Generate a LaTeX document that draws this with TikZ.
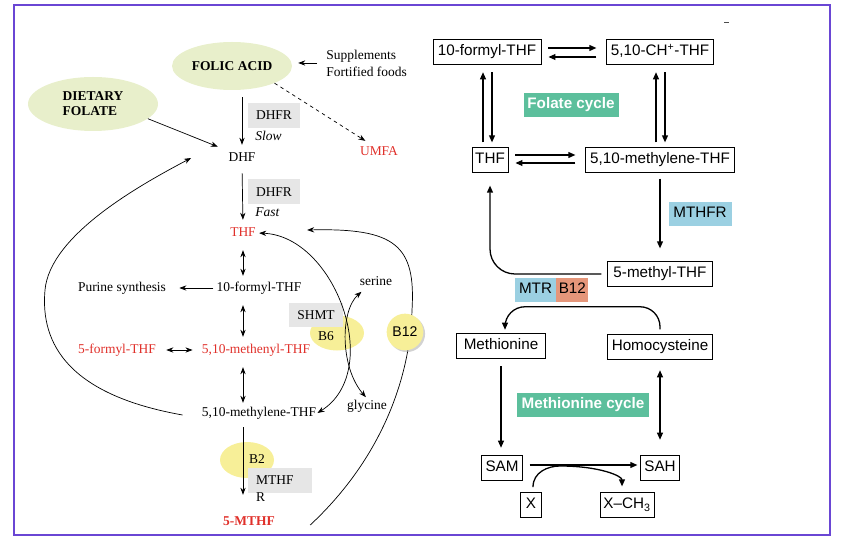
\documentclass[tikz,border=0pt]{standalone}
\usepackage{fontspec}
\setmainfont{Liberation Serif}
\newfontfamily\rsans{Liberation Sans}
\usetikzlibrary{arrows.meta,positioning,shapes.geometric,shadows}
\definecolor{framecol}{HTML}{6A46D4}
\definecolor{srcgreen}{HTML}{E8EFCB}
\definecolor{enzgray}{HTML}{E6E6E6}
\definecolor{vityel}{HTML}{F7EF98}
\definecolor{folred}{HTML}{E0302A}
\definecolor{cycgreen}{HTML}{5CBF9C}
\definecolor{tagblue}{HTML}{9BD0E2}
\definecolor{tagorange}{HTML}{E5967A}

\begin{document}
\begin{tikzpicture}[x=0.03cm, y=-0.03cm, font=\fontsize{11.5}{13}\selectfont,
  txt/.style={inner sep=1pt, text height=8pt, text depth=2.5pt},
  src/.style={ellipse, fill=srcgreen, inner sep=0pt, font=\fontsize{11.5}{13}\selectfont\bfseries},
  vit/.style={ellipse, fill=vityel, inner sep=0pt, minimum width=1.62cm, minimum height=1.05cm},
  enz/.style={fill=enzgray, inner sep=0pt, minimum width=1.56cm, minimum height=0.75cm},
  fol/.style={txt, text=folred},
  arr/.style={-{Stealth[length=6pt,width=4.5pt]}, line width=0.6pt},
  darr/.style={{Stealth[length=6pt,width=4.5pt]}-{Stealth[length=6pt,width=4.5pt]}, line width=0.6pt},
  rbox/.style={draw, line width=0.7pt, inner xsep=2pt, inner ysep=0pt, minimum height=0.75cm,
    text height=9pt, text depth=2.5pt, font=\rsans\fontsize{13}{15}\selectfont},
  rtag/.style={inner xsep=2pt, inner ysep=0pt, minimum height=0.72cm,
    text height=9pt, text depth=2.5pt, font=\rsans\fontsize{13}{15}\selectfont},
  rarr/.style={-{Triangle[length=6pt,width=5pt]}, line width=1.1pt},
  rdarr/.style={{Triangle[length=6pt,width=5pt]}-{Triangle[length=6pt,width=5pt]}, line width=1.1pt}]
  \useasboundingbox (0,0) rectangle (852,544);
  \draw[framecol, line width=1.6pt] (14,5) rectangle (830,535);
  \draw[line width=0.8pt, black!70] (724,22) -- (729,22);

  \node[src, minimum width=3.6cm, minimum height=1.44cm] (folic) at (232,66) {FOLIC ACID};
  \node[src, minimum width=3.9cm, minimum height=1.62cm, align=left] (dietary) at (93,104) {DIETARY\\FOLATE};
  \node[vit] (b6dot) at (337,333) {};
  \node[vit, minimum height=1.08cm] (b2dot) at (247,460) {};
  \node[enz] (dhfrA) at (274,115.5) {DHFR};
  \node[enz] (dhfrB) at (274,192) {DHFR};
  \node[enz, minimum width=1.62cm, minimum height=0.72cm] (shmt) at (316,315) {SHMT};
  \node[enz, minimum width=1.92cm] (mthfrbox) at (280,480.5) {};

  \node[anchor=west, align=left, inner sep=1pt, font=\fontsize{11.5}{14.5}\selectfont] (supp) at (325,63) {Supplements\\Fortified foods};
  \node[txt] (dhf) at (242,158) {DHF};
  \node[fol] (umfa) at (379,152) {UMFA};
  \node[txt, anchor=west, font=\fontsize{11.5}{13}\selectfont\itshape] (slow) at (254,137) {Slow};
  \node[txt, anchor=west, font=\fontsize{11.5}{13}\selectfont\itshape] (fast) at (254,213) {Fast};
  \node[fol] (thf) at (243,233) {THF};
  \node[txt] (formyl) at (259,288) {10-formyl-THF};
  \node[txt] (purine) at (122,288) {Purine synthesis};
  \node[fol] (methenyl) at (256,350) {5,10-methenyl-THF};
  \node[fol] (fformyl) at (117,350) {5-formyl-THF};
  \node[txt] (methylene) at (259,413) {5,10-methylene-THF};
  \node[fol, font=\fontsize{11.5}{13}\selectfont\bfseries] (mthf) at (249,522) {5-MTHF};
  \node[txt] (serine) at (376,282) {serine};
  \node[txt] (glycine) at (367,406) {glycine};
  \node[txt] (b6) at (326,337) {B6};
  \node[txt] (b2) at (257,460) {B2};
  \node[anchor=north west, align=left, inner sep=0pt, font=\fontsize{11.5}{14.5}\selectfont] (mthfr) at (256,475) {MTHF\\R};

  \coordinate (loopA) at ([xshift=-0.54cm, yshift=-0.06cm]methylene.west);
  \coordinate (loopB) at ([xshift=-1.08cm]dhf.west);
  \coordinate (mtail) at ([xshift=1.02cm, yshift=-0.09cm]mthf.east);
  \coordinate (thfin) at ([xshift=1.5cm, yshift=0.09cm]thf.east);

  \draw[arr, shorten <=0.24cm, shorten >=0.18cm] (supp.west) -- (supp.west -| folic.east);
  \draw[arr, shorten <=0.21cm, shorten >=0.17cm] (dhf.north |- folic.south) -- (dhf.north);
  \draw[arr, shorten >=0.3cm] (dietary.-15) -- (dhf.north west);
  \draw[arr, dashed, shorten >=0.2cm] (folic.-22) -- ([xshift=-0.24cm]umfa.north);
  \draw[arr, shorten <=0.23cm, shorten >=0.17cm] (dhf.south) -- (thf.north);
  \draw[darr, shorten <=0.29cm, shorten >=0.14cm] (thf.south) -- (thf.south |- formyl.north);
  \draw[arr, shorten <=0.06cm, shorten >=0.36cm] (formyl.west) -- (purine.east);
  \draw[darr, shorten <=0.29cm, shorten >=0.17cm] (thf.south |- formyl.south) -- (thf.south |- methenyl.north);
  \draw[darr, shorten <=0.27cm, shorten >=0.24cm] (fformyl.east) -- (methenyl.west);
  \draw[darr, shorten <=0.29cm, shorten >=0.08cm] (thf.south |- methenyl.south) -- (thf.south |- methylene.north);
  \draw[arr, shorten <=0.2cm, shorten >=0.59cm] (thf.south |- methylene.south) -- (thf.south |- mthf.north);
  \draw[darr, shorten <=0.06cm] (thf.east) .. controls +(78,3) and +(67,-42) .. (methylene.east);
  \draw[darr, shorten <=0.1cm, shorten >=0.05cm] ([xshift=-0.36cm]serine.south) .. controls +(-24,21) and +(-27,-31) .. (glycine.north);
  \draw[arr] (loopA) .. controls (70,395) and (40,345) .. (45,290) .. controls (50,235) and (140,185) .. (loopB);
  \draw[arr] (mtail) .. controls (380,460) and (410,380) .. (412,310) .. controls (416,245) and (395,228) .. (thfin);
  \node[circle, fill=vityel, minimum size=1.1cm, inner sep=0pt, font=\rsans\fontsize{12}{14}\selectfont,
    drop shadow={shadow xshift=1.5pt, shadow yshift=-1.5pt, fill=black!35}] (b12) at (405,332) {B12};

  \node[rbox, minimum width=3.24cm] (rformyl) at (487,52) {10-formyl-THF};
  \node[rbox, minimum width=3.21cm] (rch) at (660,52) {5,10-CH\textsuperscript{+}-THF};
  \node[rbox, minimum width=1.08cm] (rthf) at (490,160) {THF};
  \node[rbox, minimum width=4.47cm] (rmethylene) at (660,160) {5,10-methylene-THF};
  \node[rbox, minimum width=3.15cm] (rmethyl) at (660,274) {5-methyl-THF};
  \node[rbox, minimum width=2.67cm] (rmet) at (501,346) {Methionine};
  \node[rbox, minimum width=3.15cm] (rhcy) at (660,347) {Homocysteine};
  \node[rbox, minimum width=1.23cm] (rsam) at (502,468) {SAM};
  \node[rbox, minimum width=1.17cm] (rsah) at (660,468) {SAH};
  \node[rbox, minimum width=0.63cm] (rx) at (531,505) {X};
  \node[rbox, minimum width=1.62cm] (rxch) at (627,505) {X–CH\textsubscript{3}};
  \node[rtag, fill=cycgreen, text=white, minimum width=2.85cm, font=\rsans\bfseries\fontsize{13}{15}\selectfont] (folcyc) at (571,105) {Folate cycle};
  \node[rtag, fill=cycgreen, text=white, minimum width=3.96cm, font=\rsans\bfseries\fontsize{13}{15}\selectfont] (metcyc) at (583,405) {Methionine cycle};
  \node[rtag, fill=tagblue, minimum width=1.89cm] (mthfrtag) at (700,214) {MTHFR};
  \node[rtag, fill=tagblue, minimum width=1.23cm] (mtr) at (535.5,290) {MTR};
  \node[rtag, fill=tagorange, minimum width=0.9cm, right=0pt of mtr] (b12tag) {B12};

  \draw[rarr, shorten <=0.21cm, shorten >=0.29cm] ([yshift=0.12cm]rformyl.east) -- ([yshift=0.12cm]rformyl.east -| rch.west);
  \draw[rarr, shorten <=0.29cm, shorten >=0.21cm] ([yshift=-0.15cm]rch.west) -- ([yshift=-0.15cm]rch.west -| rformyl.east);
  \draw[rarr, shorten <=0.14cm, shorten >=0.22cm] ([xshift=-0.12cm]rformyl.south |- rthf.north) -- ([xshift=-0.12cm]rformyl.south);
  \draw[rarr, shorten <=0.22cm, shorten >=0.14cm] ([xshift=0.15cm]rformyl.south) -- ([xshift=0.15cm]rformyl.south |- rthf.north);
  \draw[rarr, shorten <=0.14cm, shorten >=0.22cm] ([xshift=-0.12cm]rch.south |- rmethylene.north) -- ([xshift=-0.12cm]rch.south);
  \draw[rarr, shorten <=0.22cm, shorten >=0.14cm] ([xshift=0.15cm]rch.south) -- ([xshift=0.15cm]rch.south |- rmethylene.north);
  \draw[rarr, shorten <=0.21cm, shorten >=0.29cm] ([yshift=0.15cm]rthf.east) -- ([yshift=0.15cm]rthf.east -| rmethylene.west);
  \draw[rarr, shorten <=0.29cm, shorten >=0.21cm] ([yshift=-0.09cm]rmethylene.west) -- ([yshift=-0.09cm]rmethylene.west -| rthf.east);
  \draw[rarr, shorten <=0.17cm, shorten >=0.38cm] (rmethylene.south) -- (rmethyl.north);
  \draw[rarr, rounded corners=0.75cm, shorten <=0.17cm, shorten >=0.38cm] (rmethyl.west) -| (rthf.south);
  \draw[rarr, rounded corners=0.6cm, shorten <=0.14cm, shorten >=0.1cm] (rhcy.north) -- ([yshift=0.82cm]rhcy.north) -| ([xshift=0.12cm]rmet.north);
  \draw[rarr, shorten <=0.22cm, shorten >=0.22cm] (rmet.south) -- (rmet.south |- rsam.north);
  \draw[rdarr, shorten <=0.31cm, shorten >=0.46cm] (rhcy.south) -- (rhcy.south |- rsah.north);
  \draw[rarr, shorten <=0.2cm, shorten >=0.08cm] ([yshift=0.09cm]rsam.east) -- ([yshift=0.09cm]rsam.east -| rsah.west);
  \draw[rarr, shorten <=0.15cm, shorten >=0.17cm] ([xshift=0.06cm]rx.north) .. controls +(0,-20) and +(-12,0) .. (560,466) .. controls +(40,0) and +(0,-16) .. ([xshift=-0.15cm]rxch.north);
\end{tikzpicture}
\end{document}
